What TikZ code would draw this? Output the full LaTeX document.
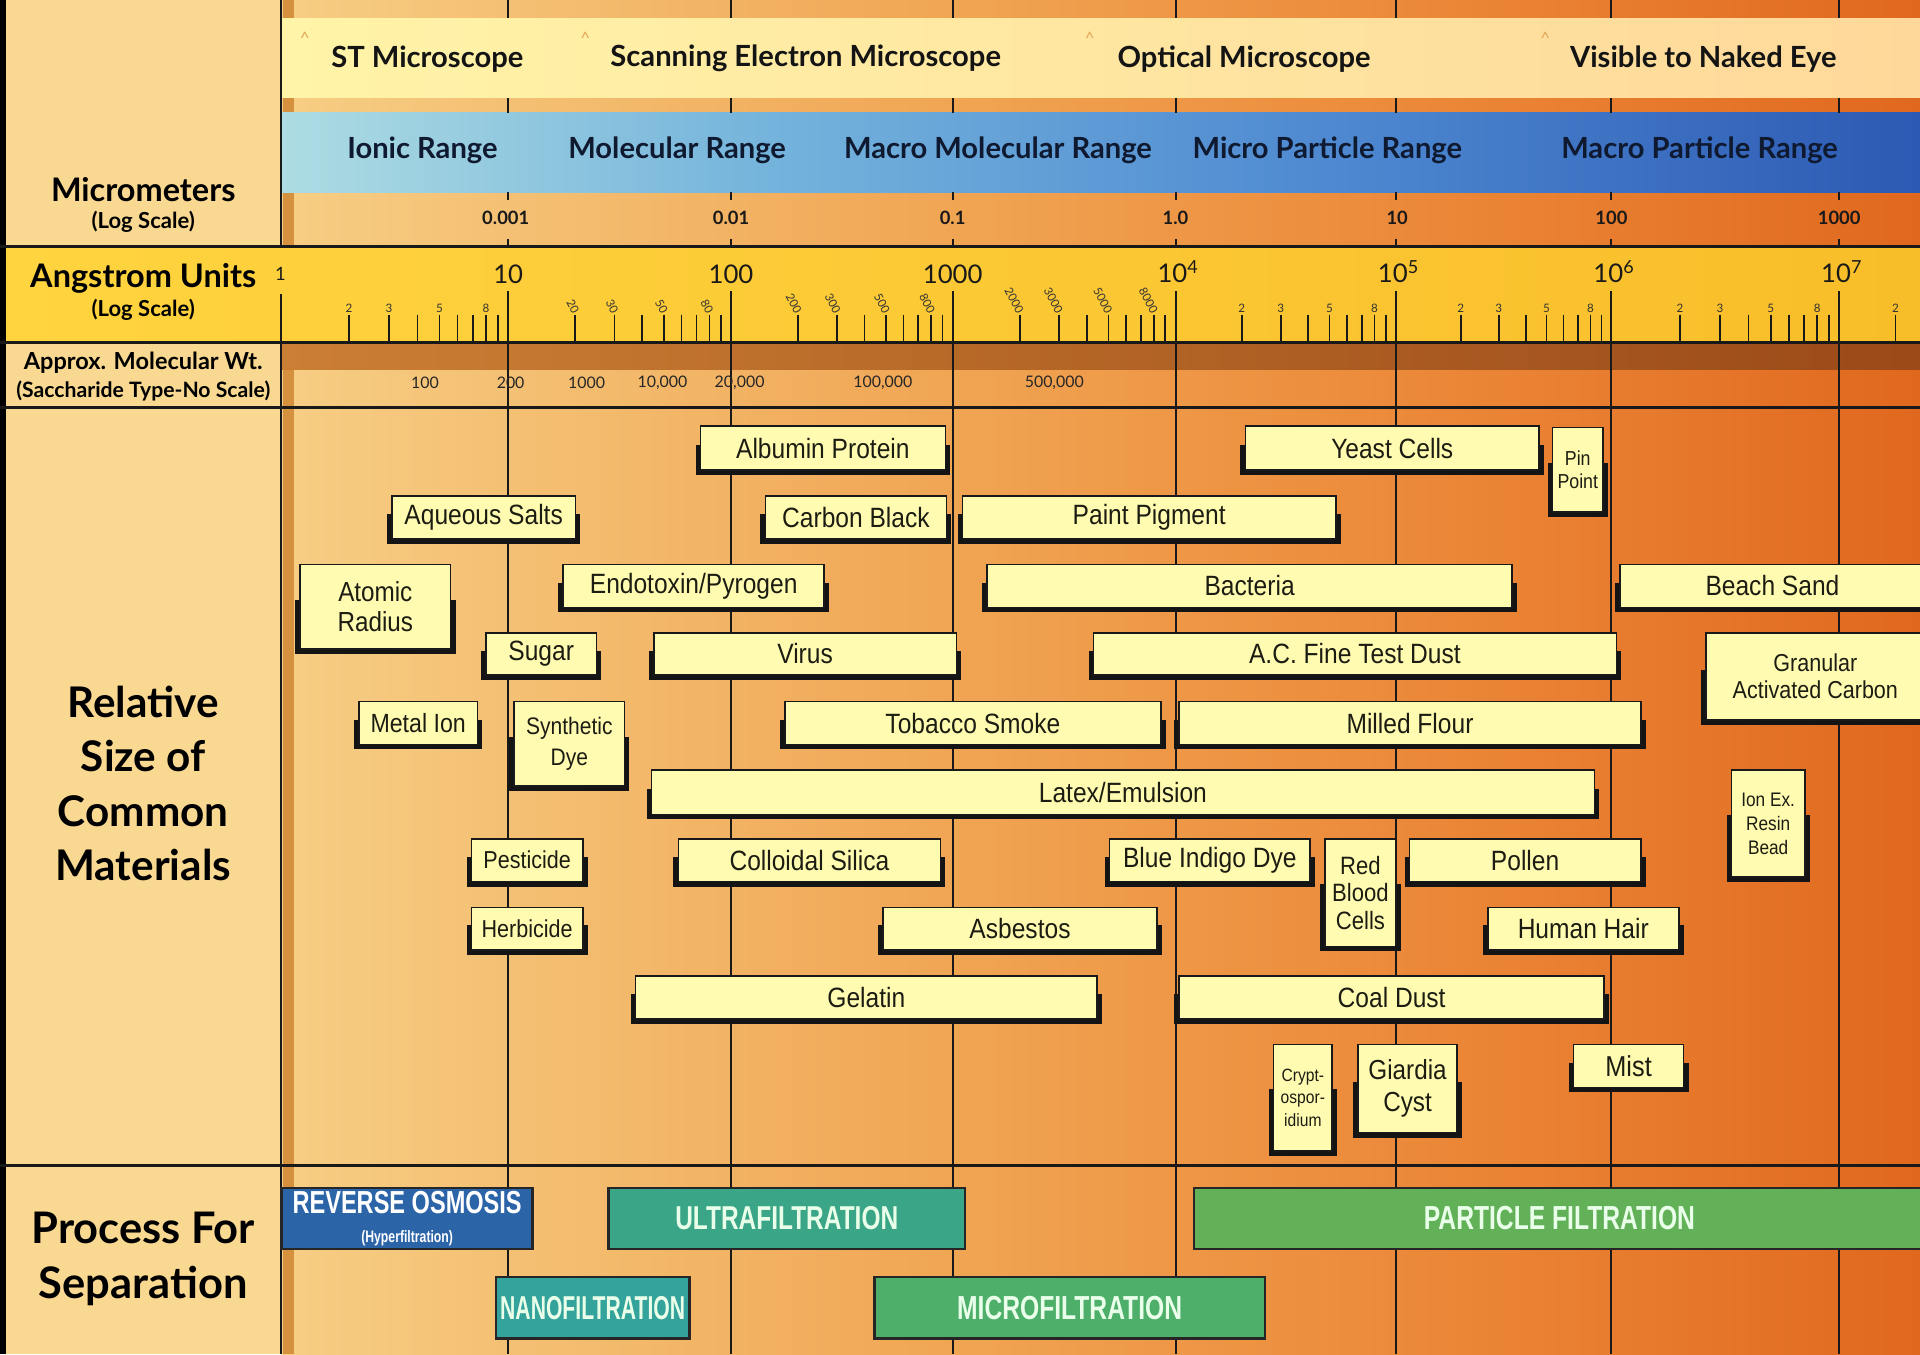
\documentclass[tikz,border=0pt]{standalone}
\usepackage{fontspec}
\setmainfont{Liberation Sans}
\newfontfamily\hdfont{Lato}
\newfontfamily\boxfont[FakeStretch=0.88]{Liberation Sans}
\newfontfamily\procfont[FakeStretch=0.74]{Liberation Sans}
\newfontfamily\procfontn[FakeStretch=0.64]{Liberation Sans}
\usetikzlibrary{calc}
\newcommand\fs[2]{\fontsize{#1}{#2}\selectfont}
\definecolor{leftcol}{HTML}{F9D891}
\definecolor{stripc}{HTML}{D6913E}
\definecolor{bgA}{HTML}{F6CE84}
\definecolor{bgB}{HTML}{F0A452}
\definecolor{bgC}{HTML}{EA8233}
\definecolor{bgD}{HTML}{E0681E}
\definecolor{micA}{HTML}{FFF4A8}
\definecolor{micB}{HTML}{FED89A}
\definecolor{bluA}{HTML}{ADDCE2}
\definecolor{bluB}{HTML}{74B3DC}
\definecolor{bluC}{HTML}{4E89D1}
\definecolor{bluD}{HTML}{2C59B3}
\definecolor{angA}{HTML}{FFD43F}
\definecolor{angB}{HTML}{F8BE2A}
\definecolor{mwA}{HTML}{CB7F34}
\definecolor{mwB}{HTML}{9B4A18}
\definecolor{boxfill}{HTML}{FFFCB2}
\definecolor{boxtext}{HTML}{1C1C12}
\definecolor{roC}{HTML}{2C64A8}
\definecolor{ufC}{HTML}{3AA687}
\definecolor{pfC}{HTML}{62B159}
\definecolor{nfC}{HTML}{34A39B}
\definecolor{mfC}{HTML}{4DAF6A}
\definecolor{procT}{HTML}{E9FFE9}
\definecolor{rngT}{HTML}{0F1A30}
\definecolor{caretc}{HTML}{E2A85A}
\pgfdeclarehorizontalshading{bgsh}{100bp}{color(0bp)=(bgA); color(25bp)=(bgA); color(46bp)=(bgB); color(63bp)=(bgC); color(75bp)=(bgD); color(100bp)=(bgD)}
\pgfdeclarehorizontalshading{blush}{100bp}{color(0bp)=(bluA); color(25bp)=(bluA); color(40bp)=(bluB); color(57bp)=(bluC); color(75bp)=(bluD); color(100bp)=(bluD)}
\tikzset{
  vline/.style={draw=black!90, line width=1.6pt},
  hline/.style={draw=black!90, line width=2.6pt},
  divline/.style={draw=black!90, line width=1.8pt},
  tickl/.style={draw=black!90, line width=1.4pt},
  boxshadow/.style={fill=black!92},
  matnode/.style={draw=black!90, line width=1.3pt, fill=boxfill, inner sep=0pt, align=center, text=boxtext},
  procnode/.style={draw=black!85, line width=2pt, inner sep=0pt, align=center, text=procT, font=\procfont\bfseries\fs{27}{28}},
  mictext/.style={font=\hdfont\bfseries\fs{23.8}{25}, text=black!92, inner sep=0pt},
  rngtext/.style={font=\hdfont\bfseries\fs{23.8}{25}, text=rngT, inner sep=0pt},
  umlab/.style={font=\hdfont\bfseries\fs{15}{16}, text=black!90, inner sep=0pt},
  anglab/.style={font=\hdfont\fs{21}{23}, text=black!90, inner sep=0pt},
  minlab/.style={font=\hdfont\fs{9.5}{10}, text=black!80, inner sep=0.5pt},
  mwlab/.style={font=\hdfont\fs{13}{14}, text=black!85, inner sep=0pt},
  lefthd/.style={font=\hdfont\bfseries\fs{26.5}{28}, text=black, inner sep=0pt},
  leftsub/.style={font=\hdfont\bfseries\fs{18}{19}, text=black, inner sep=0pt},
  leftbig/.style={font=\hdfont\bfseries\fs{34.5}{44.5}, text=black, inner sep=0pt, align=center},
  caret/.style={font=\hdfont\fs{14}{14}, text=caretc, inner sep=0pt}
}
\newcommand{\matbox}[7]{%
  \pgfmathsetmacro\bw{#4-#2}\pgfmathsetmacro\bh{#5-#3}%
  \pgfmathsetmacro\bcx{(#2+#4)/2}\pgfmathsetmacro\bcy{(#3+#5)/2}%
  \pgfmathsetmacro\bsy{#3+0.42*(#5-#3)}%
  \fill[boxshadow] (#2-4,\bsy) rectangle (#4+4,#5+4);
  \node[matnode,minimum width=\bw pt,minimum height=\bh pt,font=\boxfont#6] (#1) at (\bcx,\bcy) {#7};
}
\newcommand{\procbar}[7]{%
  \pgfmathsetmacro\bw{#4-#2}\pgfmathsetmacro\bh{#5-#3}%
  \pgfmathsetmacro\bcx{(#2+#4)/2}\pgfmathsetmacro\bcy{(#3+#5)/2}%
  \node[procnode,fill=#6,minimum width=\bw pt,minimum height=\bh pt] (#1) at (\bcx,\bcy) {#7};
}
\newcommand\std{\fs{22.8}{25}}
\begin{document}
\begin{tikzpicture}[x=1pt,y=-1pt]
\useasboundingbox (0,0) rectangle (1568,1106);
\clip (0,0) rectangle (1568,1106);
% backgrounds
\fill[leftcol] (0,0) rectangle (230,1106);
\shade[shading=bgsh] (230,0) rectangle (1568,1106);
\fill[stripc] (231,0) rectangle (240,1106);
\fill[black] (0,0) rectangle (5,1106);
% bands
\shade[left color=micA, right color=micB] (230,15) rectangle (1568,80);
\shade[shading=blush] (230,92) rectangle (1568,157);
\shade[left color=angA, right color=angB] (5,202) rectangle (1568,279);
\shade[left color=mwA, right color=mwB] (230,281) rectangle (1568,302);
% horizontal lines
\draw[hline] (0,201) -- (1568,201);
\draw[hline] (0,280) -- (1568,280);
\draw[hline] (0,333) -- (1568,333);
\draw[hline] (0,952) -- (1568,952);
% divider
\draw[divline] (229.5,0) -- (229.5,201);
\draw[divline] (229.5,240) -- (229.5,1106);
% decade lines
\foreach \x in {415,597,778,960,1140,1316,1502} {
  \draw[vline] (\x,0) -- (\x,15);
  \draw[vline] (\x,80) -- (\x,92);
  \draw[vline] (\x,157) -- (\x,163);
  \draw[vline] (\x,195) -- (\x,201);
  \draw[vline] (\x,238) -- (\x,1106);
}
% minor ticks
\foreach \a/\b in {229/415,415/597,597/778,778/960,960/1140,1140/1316,1316/1502,1502/1655} {
  \foreach \k in {2,...,9} {
    \draw[tickl] ({\a+log10(\k)*(\b-\a)},257) -- ({\a+log10(\k)*(\b-\a)},279);
  }
}
\foreach \a/\b in {229/415,960/1140,1140/1316,1316/1502} {
  \foreach \k in {2,3,5,8} {
    \node[minlab,anchor=south] (u\a\k) at ({\a+log10(\k)*(\b-\a)},256) {\k};
  }
}
\node[minlab,anchor=south] (ulast) at ({1502+log10(2)*153},256) {2};
\foreach \a/\b/\suf in {415/597/0,597/778/00,778/960/000} {
  \foreach \k in {2,3,5,8} {
    \node[minlab,rotate=-62,anchor=east] (r\a\k) at ({\a+log10(\k)*(\b-\a)+1},256) {\k\suf};
  }
}
% carets
\node[caret] (c1) at (249,31) {\textasciicircum};
\node[caret] (c2) at (478,31) {\textasciicircum};
\node[caret] (c3) at (890,31) {\textasciicircum};
\node[caret] (c4) at (1262,31) {\textasciicircum};
% microscope texts
\node[mictext] (st) at (349,48) {ST Microscope};
\node[mictext] (sem) at (658,48) {Scanning Electron Microscope};
\node[mictext] (opt) at (1016,48) {Optical Microscope};
\node[mictext] (eye) at (1391,48) {Visible to Naked Eye};
% range texts
\node[rngtext] (ionic) at (345,123) {Ionic Range};
\node[rngtext] (molr) at (553,123) {Molecular Range};
\node[rngtext] (macmol) at (815,123) {Macro Molecular Range};
\node[rngtext] (micp) at (1084,123) {Micro Particle Range};
\node[rngtext] (macp) at (1388,123) {Macro Particle Range};
% micrometer labels
\node[umlab] (um1) at (413,178) {0.001};
\node[umlab] (um2) at (597,178) {0.01};
\node[umlab] (um3) at (778,178) {0.1};
\node[umlab] (um4) at (960,178) {1.0};
\node[umlab] (um5) at (1141,178) {10};
\node[umlab] (um6) at (1316,178) {100};
\node[umlab] (um7) at (1502,178) {1000};
% angstrom labels
\node[anglab,font=\hdfont\fs{15}{16}] (a0) at (229,224) {1};
\node[anglab] (a1) at (415,224) {10};
\node[anglab] (a2) at (597,224) {100};
\node[anglab] (a3) at (778,224) {1000};
\node[anglab] (a4) at (962,222) {10\textsuperscript{4}};
\node[anglab] (a5) at (1142,222) {10\textsuperscript{5}};
\node[anglab] (a6) at (1318,222) {10\textsuperscript{6}};
\node[anglab] (a7) at (1504,222) {10\textsuperscript{7}};
% molecular weight labels
\node[mwlab] (mw1) at (347,313) {100};
\node[mwlab] (mw2) at (417,313) {200};
\node[mwlab] (mw3) at (479,313) {1000};
\node[mwlab] (mw4) at (541,313) {10,000};
\node[mwlab] (mw5) at (604,313) {20,000};
\node[mwlab] (mw6) at (721,313) {100,000};
\node[mwlab] (mw7) at (861,313) {500,000};
% left column
\node[lefthd] (lmic) at (117,155) {Micrometers};
\node[leftsub] (lmic2) at (117,181) {(Log Scale)};
\node[lefthd] (lang) at (117,227) {Angstrom Units};
\node[leftsub] (lang2) at (117,253) {(Log Scale)};
\node[leftsub,font=\hdfont\bfseries\fs{19.2}{20}] (lmw) at (117,296) {Approx. Molecular Wt.};
\node[leftsub,font=\hdfont\bfseries\fs{17.3}{18}] (lmw2) at (117,319) {(Saccharide Type-No Scale)};
\node[leftbig] (lrel) at (117,640) {Relative\\Size of\\Common\\Materials};
\node[leftbig,font=\hdfont\bfseries\fs{35.5}{45}] (lproc) at (117,1028) {Process For\\Separation};
% material boxes
\matbox{albumin}{572}{348}{772}{384}{\std}{Albumin Protein}
\matbox{yeast}{1017}{348}{1257}{384}{\std}{Yeast Cells}
\matbox{pin}{1268}{349}{1309}{418}{\fs{16.5}{19}}{Pin\\Point}
\matbox{aqueous}{320}{405}{470}{440}{\std}{Aqueous Salts}
\matbox{carbon}{625}{405}{773}{440}{\std}{Carbon Black}
\matbox{paint}{786}{405}{1091}{440}{\std}{Paint Pigment}
\matbox{atomic}{245}{461}{368}{530}{\fs{22.5}{25}}{Atomic\\Radius}
\matbox{endo}{460}{461}{673}{496}{\std}{Endotoxin/Pyrogen}
\matbox{bacteria}{806}{461}{1235}{496}{\std}{Bacteria}
\matbox{beach}{1323}{461}{1572}{496}{\std}{Beach Sand}
\matbox{sugar}{397}{517}{487}{551}{\std}{Sugar}
\matbox{virus}{534}{517}{781}{551}{\std}{Virus}
\matbox{acdust}{893}{517}{1320}{551}{\std}{A.C. Fine Test Dust}
\matbox{gac}{1393}{517}{1572}{588}{\fs{20}{22}}{Granular\\Activated Carbon}
\matbox{metal}{293}{573}{390}{608}{\fs{21.5}{23}}{Metal Ion}
\matbox{synth}{420}{573}{510}{642}{\fs{19.5}{25}}{Synthetic\\Dye}
\matbox{tobacco}{641}{573}{948}{608}{\std}{Tobacco Smoke}
\matbox{flour}{963}{573}{1340}{608}{\std}{Milled Flour}
\matbox{latex}{532}{629}{1302}{665}{\std}{Latex/Emulsion}
\matbox{ionex}{1414}{629}{1474}{716}{\fs{16}{19.5}}{Ion Ex.\\Resin\\Bead}
\matbox{pest}{385}{685}{476}{720}{\fs{20}{22}}{Pesticide}
\matbox{silica}{554}{685}{768}{720}{\std}{Colloidal Silica}
\matbox{indigo}{906}{685}{1070}{720}{\std}{Blue Indigo Dye}
\matbox{rbc}{1082}{685}{1140}{773}{\fs{20.5}{22.5}}{Red\\Blood\\Cells}
\matbox{pollen}{1151}{685}{1340}{720}{\std}{Pollen}
\matbox{herb}{385}{741}{476}{776}{\fs{20}{22}}{Herbicide}
\matbox{asbestos}{721}{741}{945}{776}{\std}{Asbestos}
\matbox{hair}{1215}{741}{1371}{776}{\std}{Human Hair}
\matbox{gelatin}{519}{797}{896}{832}{\std}{Gelatin}
\matbox{coal}{963}{797}{1310}{832}{\std}{Coal Dust}
\matbox{crypt}{1040}{853}{1088}{940}{\fs{14.5}{18.5}}{Crypt-\\ospor-\\idium}
\matbox{giardia}{1109}{853}{1190}{925}{\fs{22.5}{26}}{Giardia\\Cyst}
\matbox{mist}{1285}{853}{1375}{888}{\fs{23.5}{25}}{Mist}
% process bars
\procbar{ro}{230}{970}{435}{1020}{roC}{{\fs{26}{26}\textcolor{white}{REVERSE OSMOSIS}}\\[-4pt]{\fs{13.5}{14}\textcolor{white}{(Hyperfiltration)}}}
\procbar{uf}{497}{970}{788}{1020}{ufC}{ULTRAFILTRATION}
\procbar{pf}{975}{970}{1572}{1020}{pfC}{\fs{27.2}{28}PARTICLE FILTRATION}
\procbar{nf}{405}{1043}{563}{1093}{nfC}{{\procfontn\bfseries\fs{27}{28}NANOFILTRATION}}
\procbar{mf}{714}{1043}{1033}{1093}{mfC}{\fs{27.2}{28}MICROFILTRATION}
\end{tikzpicture}
\end{document}
